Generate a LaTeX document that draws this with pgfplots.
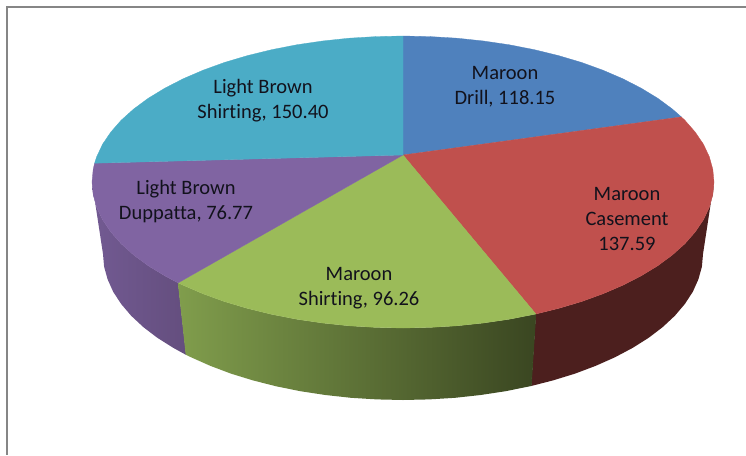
\documentclass[border=0pt]{standalone}
\usepackage{fontspec}
\setmainfont[Ligatures=NoCommon]{Carlito}
\usepackage{pgfplots}
\pgfplotsset{compat=1.18}
\definecolor{pieblue}{RGB}{79,129,189}
\definecolor{piered}{RGB}{192,80,77}
\definecolor{piegreen}{RGB}{155,187,89}
\definecolor{piepurple}{RGB}{128,100,162}
\definecolor{pieteal}{RGB}{75,172,198}
\definecolor{sidered}{RGB}{76,31,30}
\definecolor{sidegreenL}{RGB}{128,157,76}
\definecolor{sidegreenR}{RGB}{58,70,33}
\definecolor{sidepurpleL}{RGB}{114,90,146}
\definecolor{sidepurpleR}{RGB}{100,78,126}
\definecolor{framegray}{RGB}{134,134,134}
\definecolor{labelink}{RGB}{18,18,28}
\begin{document}
\begin{tikzpicture}[
  slicelabel/.style={align=center,text=labelink,inner sep=0pt,
    font=\fontsize{20.5}{25}\selectfont}]
\begin{axis}[
  scale only axis, width=746pt, height=455pt,
  xmin=0, xmax=746, ymin=0, ymax=455, y dir=reverse,
  axis lines=none, ticks=none, no markers, clip=true]

% keep the full plot area in the page's bounding box
\path (axis cs:0,0) rectangle (axis cs:746,455);

% chart frame: top and left edges only
\addplot[framegray, line width=2pt] coordinates {(746,6.5) (6.5,6.5) (6.5,455)};

% rim of the pie
\addplot[draw=none, fill=sidered] coordinates {
  (714,182) (712.8,194.7) (709.3,207.3) (703.4,219.8) (695.2,231.9) (684.9,243.7)
  (672.3,255) (657.8,265.7) (641.2,275.8) (622.9,285.2) (602.9,293.8) (581.4,301.6)
  (558.5,308.4) (535.9,314)
  (531.2,386) (553,380.4) (575.1,373.6) (595.8,365.8) (615.1,357.2) (632.8,347.8)
  (648.8,337.7) (662.8,327) (674.9,315.7) (684.9,303.9) (692.8,291.8) (698.4,279.3)
  (701.9,266.7) (703,254)} -- cycle;

\addplot[draw=none, left color=sidepurpleL, right color=sidepurpleR] coordinates {
  (178.1,282.9) (164.8,275.8) (148.2,265.7) (133.7,255) (121.1,243.7) (110.8,231.9)
  (102.6,219.8) (96.7,207.3) (93.2,194.7) (92,182)
  (103,254) (104.1,266.7) (107.6,279.3) (113.2,291.8) (121.1,303.9) (131.1,315.7)
  (143.2,327) (157.2,337.7) (173.2,347.8) (186.1,354.9)} -- cycle;

% seams where the green rim meets its neighbours
\addplot[sidegreenL, line width=0.8pt] coordinates {(178.4,283.5) (186.1,354.4)};
\addplot[sidegreenR, line width=0.8pt] coordinates {(535.7,314.5) (531.2,385.5)};

\addplot[draw=none, left color=sidegreenL, right color=sidegreenR] coordinates {
  (535.9,314) (509.4,319.2) (483.5,323) (457,325.8) (430.1,327.4) (403,328)
  (375.9,327.4) (349,325.8) (322.5,323) (296.6,319.2) (271.6,314.3) (247.5,308.4)
  (224.6,301.6) (203.1,293.8) (183.1,285.2) (178.1,282.9)
  (186.1,354.9) (190.9,357.2) (210.2,365.8) (230.9,373.6) (253,380.4) (276.2,386.3)
  (300.4,391.2) (325.4,395) (350.9,397.8) (376.8,399.4) (403,400) (429.2,399.4)
  (455.1,397.8) (480.6,395) (505.6,391.2) (531.2,386)} -- cycle;

% top face, one wedge for each product
\addplot[draw=pieblue, line width=0.3pt, fill=pieblue] coordinates {
  (403,155) (403,36) (430.1,36.6) (457,38.2) (483.5,41) (509.4,44.8) (534.4,49.7)
  (558.5,55.6) (581.4,62.4) (602.9,70.2) (622.9,78.8) (641.2,88.2) (657.8,98.3)
  (672.3,109) (681.3,116.9)} -- cycle;

\addplot[draw=piered, line width=0.3pt, fill=piered] coordinates {
  (403,155) (681.3,116.9) (684.9,120.3) (695.2,132.1) (703.4,144.2) (709.3,156.7)
  (712.8,169.3) (714,182) (712.8,194.7) (709.3,207.3) (703.4,219.8) (695.2,231.9)
  (684.9,243.7) (672.3,255) (657.8,265.7) (641.2,275.8) (622.9,285.2) (602.9,293.8)
  (581.4,301.6) (558.5,308.4) (535.9,314)} -- cycle;

\addplot[draw=piegreen, line width=0.3pt, fill=piegreen] coordinates {
  (403,155) (535.9,314) (509.4,319.2) (483.5,323) (457,325.8) (430.1,327.4) (403,328)
  (375.9,327.4) (349,325.8) (322.5,323) (296.6,319.2) (271.6,314.3) (247.5,308.4)
  (224.6,301.6) (203.1,293.8) (183.1,285.2) (178.1,282.9)} -- cycle;

\addplot[draw=piepurple, line width=0.3pt, fill=piepurple] coordinates {
  (403,155) (178.1,282.9) (164.8,275.8) (148.2,265.7) (133.7,255) (121.1,243.7)
  (110.8,231.9) (102.6,219.8) (96.7,207.3) (93.2,194.7) (92,182) (93.2,169.3)
  (94.6,163.2)} -- cycle;

\addplot[draw=pieteal, line width=0.3pt, fill=pieteal] coordinates {
  (403,155) (94.6,163.2) (96.7,156.7) (102.6,144.2) (110.8,132.1) (121.1,120.3)
  (133.7,109) (148.2,98.3) (164.8,88.2) (183.1,78.8) (203.1,70.2) (224.6,62.4)
  (247.5,55.6) (271.6,49.7) (296.6,44.8) (322.5,41) (349,38.2) (375.9,36.6) (403,36)} -- cycle;

% slice labels
\node[slicelabel] at (axis cs:505,86.5) {Maroon\\Drill, 118.15};
\node[slicelabel] at (axis cs:627,218.5) {Maroon\\Casement\\137.59};
\node[slicelabel] at (axis cs:359,288.5) {Maroon\\Shirting, 96.26};
\node[slicelabel] at (axis cs:186,201.5) {Light Brown\\Duppatta, 76.77};
\node[slicelabel] at (axis cs:263,100.5) {Light Brown\\Shirting, 150.40};
\end{axis}
\end{tikzpicture}
\end{document}
